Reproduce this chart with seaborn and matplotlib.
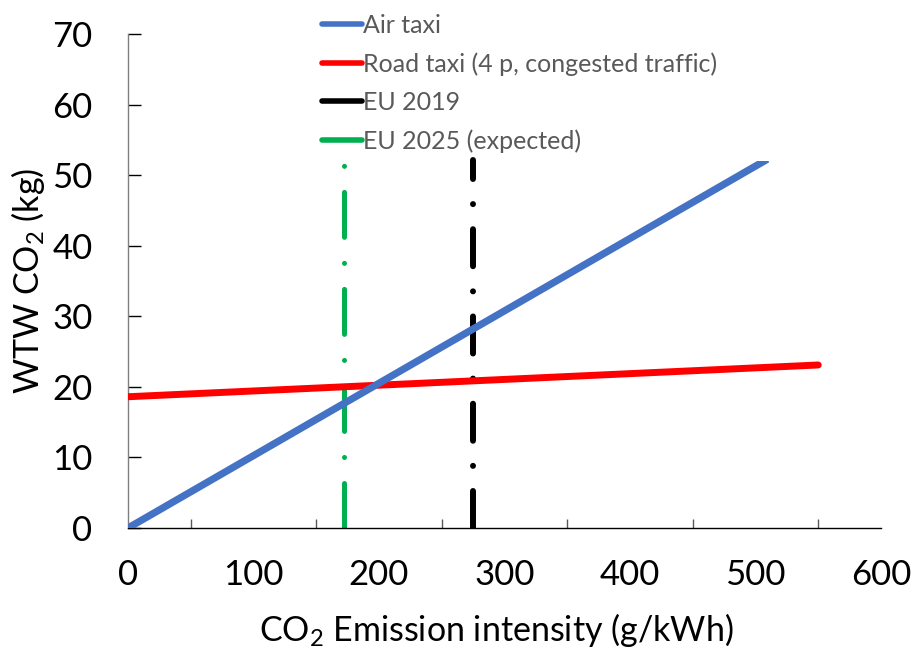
import matplotlib
matplotlib.use("Agg")
import matplotlib.pyplot as plt
import seaborn as sns
import pandas as pd
from matplotlib.ticker import MultipleLocator
from matplotlib.lines import Line2D
from matplotlib.patches import Rectangle

# ---- data ----
air_x = [0, 507]
air_y = [0, 52.0]
road_x = [0, 550]
road_y = [18.6, 23.1]
eu2019_x = [275, 275]
eu2019_y = [0, 52.2]
eu2025_x = [172, 172]
eu2025_y = [0, 51.5]
labels = ["Air taxi", "Road taxi (4 p, congested traffic)", "EU 2019", "EU 2025 (expected)"]
colors = ["#4472C4", "#FF0000", "#000000", "#00B050"]

sns.set_theme(style="white")
plt.rcParams['font.family'] = ['Lato', 'DejaVu Sans']
plt.rcParams['mathtext.fontset'] = 'custom'
plt.rcParams['mathtext.rm'] = 'Lato'
plt.rcParams['mathtext.it'] = 'Lato:italic'

fig = plt.figure(figsize=(9.12, 6.48), dpi=100)
ax = fig.add_axes([128/912, 1-528/648, (881-128)/912, (528-34)/648])

df_air = pd.DataFrame({"x": air_x, "y": air_y})
df_road = pd.DataFrame({"x": road_x, "y": road_y})
df_19 = pd.DataFrame({"x": eu2019_x, "y": eu2019_y})
df_25 = pd.DataFrame({"x": eu2025_x, "y": eu2025_y})

sns.lineplot(data=df_road, x="x", y="y", ax=ax, color=colors[1], lw=5.0,
             solid_capstyle="round", estimator=None, sort=False, zorder=3)
sns.lineplot(data=df_air, x="x", y="y", ax=ax, color=colors[0], lw=5.2,
             solid_capstyle="projecting", estimator=None, sort=False, zorder=4)
sns.lineplot(data=df_25, x="x", y="y", ax=ax, color=colors[3], lw=3.6,
             estimator=None, sort=False, zorder=2)
sns.lineplot(data=df_19, x="x", y="y", ax=ax, color=colors[2], lw=4.3,
             estimator=None, sort=False, zorder=2)

ax.set_xlim(0, 600)
ax.set_ylim(0, 70)

lines = ax.get_lines()
# flat top end of the air-taxi line (clip inside the axes, below its last value)
lines[1].set_clip_path(Rectangle((0, 0), 600, air_y[-1], transform=ax.transData))
# dash-dot patterns
for ln, pat in zip(lines[2:4], [(9.0, 5.2, 0.01, 5.2), (6.2, 4.2, 0.01, 4.2)]):
    ln.set_dashes(pat)
    ln.set_dash_capstyle("round")

ax.xaxis.set_major_locator(MultipleLocator(100))
ax.xaxis.set_minor_locator(MultipleLocator(50))
ax.yaxis.set_major_locator(MultipleLocator(10))

for s in ["top", "right"]:
    ax.spines[s].set_visible(False)
ax.spines["bottom"].set_color("#000000")
ax.spines["left"].set_color("#7f7f7f")
for s in ["left", "bottom"]:
    ax.spines[s].set_linewidth(1.0)

ax.tick_params(axis="x", which="major", direction="inout", length=17, width=1.0,
               color="#595959", labelsize=25, labelcolor="black", pad=14)
ax.tick_params(axis="x", which="minor", direction="in", length=6.5, width=1.0,
               color="#595959", bottom=True)
ax.tick_params(axis="y", which="major", direction="in", length=9, width=1.0,
               color="black", labelsize=25, labelcolor="black", pad=25.5, left=True)

ax.set_xlabel("CO$_\\mathregular{2}$ Emission intensity (g/kWh)", fontsize=24.5, color="black",
              labelpad=14.5, x=0.489)
ax.set_ylabel("WTW CO$_\\mathregular{2}$ (kg)", fontsize=24.5, color="black", labelpad=4)

handles = [Line2D([0], [0], color=c, lw=4.0, solid_capstyle="round") for c in colors]
leg = fig.legend(handles, labels, loc="upper left", bbox_to_anchor=(312/912, 1 - 4/648),
                 frameon=False, fontsize=18, handlelength=1.6, handletextpad=0.05,
                 labelspacing=0.61, borderaxespad=0)
for t in leg.get_texts():
    t.set_color("#595959")

fig.savefig("out.png", dpi=100)
